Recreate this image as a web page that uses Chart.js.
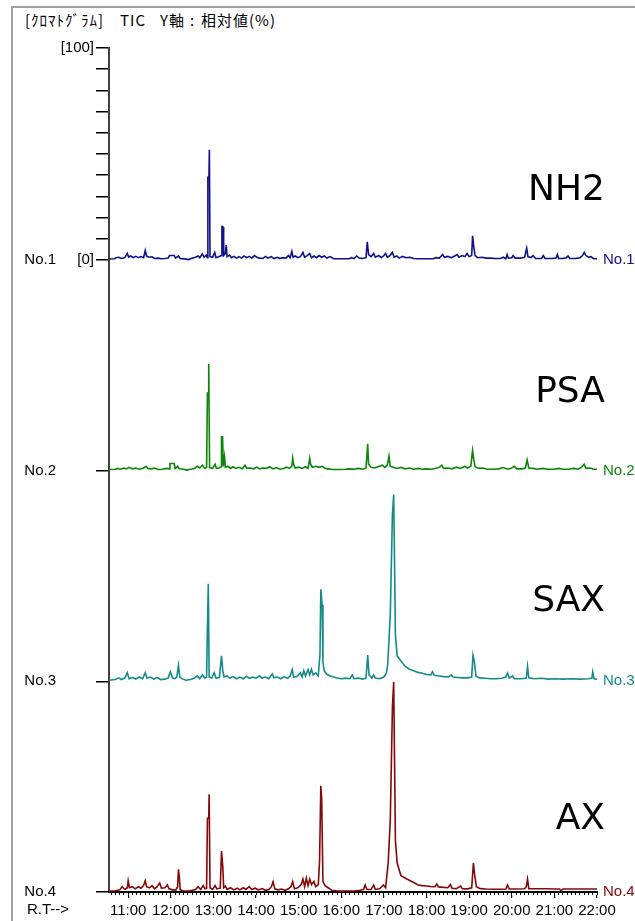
<!DOCTYPE html>
<html>
<head>
<meta charset="utf-8">
<script src="https://cdn.jsdelivr.net/npm/chart.js@4"></script>
<style>
  html, body { margin: 0; padding: 0; background: #fff; }
  #wrap { position: relative; width: 635px; height: 921px; overflow: hidden; }
  #frame { position: absolute; left: 11px; top: 6px; width: 700px; height: 1000px;
           border-left: 2px solid #a0a0a0; border-top: 2px solid #a0a0a0; }
  #title span { position: absolute; top: 9px; font: 15px "Noto Sans CJK JP", sans-serif;
                color: #000; white-space: pre; letter-spacing: 1px; }
  canvas { position: absolute; left: 0; top: 0; }
</style>
</head>
<body>
<div id="wrap">
  <div id="frame"></div>
  <div id="title"><span style="left:25px">[ｸﾛﾏﾄｸﾞﾗﾑ]</span><span style="left:120px">TIC</span><span style="left:160px">Y軸</span><span style="left:190px">:</span><span style="left:201px">相対値(%)</span></div>
  <canvas id="chrom" width="635" height="921"></canvas>
</div>
<script>
// retention time ticks (min) and their labels
const minutes = [11, 12, 13, 14, 15, 16, 17, 18, 19, 20, 21, 22];
const tickLabels = ['11:00', '12:00', '13:00', '14:00', '15:00', '16:00',
                    '17:00', '18:00', '19:00', '20:00', '21:00', '22:00'];
const traceNames = ['NH2', 'PSA', 'SAX', 'AX'];
const traceTags = ['No.1', 'No.2', 'No.3', 'No.4'];
const traceColors = ['#10108a', '#0a860a', '#158a8a', '#860808'];

// TIC, relative intensity (%) : [R.T (min), value]
const nh2 = [
  [10.55,0.4],[10.68,0.5],[10.72,1.0],[10.78,1.2],[10.84,0.6],[10.92,1.0],[10.98,3.0],[11.01,1.3],
  [11.06,1.8],[11.12,1.0],[11.18,1.6],[11.24,1.0],[11.30,1.5],[11.36,1.0],[11.40,4.4],[11.43,1.8],
  [11.48,1.2],[11.56,1.4],[11.62,0.6],[11.70,0.8],[11.78,0.5],[11.86,0.6],[11.94,0.8],[11.97,2.0],
  [12.08,2.0],[12.11,0.8],[12.18,1.8],[12.22,0.6],[12.36,0.3],[12.42,0.1],[12.48,0.6],[12.58,1.2],
  [12.64,1.8],[12.68,1.0],[12.74,2.8],[12.78,1.2],[12.83,2.2],[12.86,1.0],[12.87,39],[12.895,39],
  [12.905,52],[12.92,1.5],[12.98,1.2],[13.03,3.5],[13.06,1.0],[13.12,1.4],[13.19,2.0],[13.20,15.7],
  [13.225,15.5],[13.24,2.0],[13.28,3.0],[13.30,7.0],[13.32,1.5],[13.38,2.2],[13.42,1.0],[13.48,1.6],
  [13.54,0.8],[13.60,1.5],[13.66,0.8],[13.72,1.8],[13.78,1.0],[13.84,1.6],[13.90,0.8],[13.96,2.0],
  [14.02,1.2],[14.08,0.8],[14.16,0.6],[14.22,1.6],[14.28,0.8],[14.36,1.5],[14.42,0.6],[14.50,1.2],
  [14.56,0.6],[14.62,1.0],[14.70,0.8],[14.76,2.0],[14.80,1.0],[14.84,4.0],[14.87,1.2],[14.92,1.8],
  [14.98,1.0],[15.04,1.5],[15.10,3.5],[15.14,1.2],[15.20,2.0],[15.26,3.0],[15.30,1.0],[15.36,1.8],
  [15.42,1.0],[15.48,2.0],[15.54,1.2],[15.60,1.8],[15.66,0.8],[15.74,1.5],[15.82,0.5],[16.00,0.5],
  [16.18,0.5],[16.24,1.0],[16.30,0.6],[16.36,1.8],[16.42,0.8],[16.50,0.6],[16.58,1.0],[16.61,8.5],
  [16.64,2.5],[16.70,1.5],[16.76,3.0],[16.80,1.2],[16.88,2.0],[16.94,1.0],[17.00,2.0],[17.04,3.0],
  [17.08,1.2],[17.14,2.0],[17.20,3.5],[17.24,1.2],[17.30,1.8],[17.36,0.8],[17.44,1.6],[17.52,1.0],
  [17.60,1.2],[17.70,0.6],[17.80,0.5],[18.00,0.5],[18.16,0.5],[18.22,1.0],[18.30,0.8],[18.38,2.5],
  [18.42,1.2],[18.50,1.6],[18.58,1.0],[18.66,1.8],[18.72,2.5],[18.76,1.2],[18.84,2.0],[18.90,1.5],
  [18.95,3.0],[19.00,1.5],[19.06,2.0],[19.08,11.3],[19.11,6.0],[19.14,2.0],[19.20,1.0],[19.30,1.2],
  [19.40,0.8],[19.50,0.8],[19.60,0.6],[19.74,0.6],[19.80,1.2],[19.86,0.5],[19.89,2.5],[19.92,0.8],
  [20.00,1.0],[20.03,2.0],[20.08,0.8],[20.20,0.8],[20.30,1.2],[20.35,5.5],[20.38,1.5],[20.45,1.0],
  [20.50,2.0],[20.56,0.6],[20.70,0.6],[20.74,2.0],[20.78,0.6],[20.94,0.6],[21.04,0.8],[21.07,2.5],
  [21.10,0.6],[21.20,0.6],[21.28,1.0],[21.32,1.8],[21.36,0.6],[21.50,0.6],[21.60,1.0],[21.66,2.0],
  [21.70,3.5],[21.74,2.0],[21.80,1.2],[21.86,1.5],[21.92,0.5],[22.00,0.5]
];
const psa = [
  [10.55,0.5],[10.70,0.6],[10.76,1.0],[10.82,0.6],[10.90,1.2],[10.96,0.8],[11.02,1.5],[11.10,0.8],
  [11.18,1.2],[11.26,0.6],[11.34,1.0],[11.42,2.0],[11.46,1.0],[11.54,0.8],[11.62,1.2],[11.70,0.5],
  [11.80,0.6],[11.90,1.0],[11.96,0.8],[11.98,3.3],[12.08,3.3],[12.10,1.0],[12.16,2.0],[12.20,0.8],
  [12.30,0.6],[12.38,0.2],[12.46,0.6],[12.56,1.0],[12.62,2.0],[12.68,1.2],[12.74,2.5],[12.80,1.0],
  [12.84,1.5],[12.86,36.6],[12.88,36.6],[12.89,50.3],[12.91,1.5],[12.98,1.0],[13.04,3.0],[13.07,1.0],
  [13.14,1.2],[13.18,1.8],[13.19,15.9],[13.215,15.9],[13.23,2.0],[13.26,6.6],[13.28,1.5],[13.34,2.0],
  [13.40,1.0],[13.46,1.8],[13.52,1.0],[13.60,1.5],[13.68,0.8],[13.74,2.5],[13.78,1.0],[13.86,1.2],
  [13.94,0.8],[14.02,1.6],[14.08,0.8],[14.16,1.2],[14.24,1.0],[14.32,1.8],[14.40,0.8],[14.48,1.4],
  [14.56,0.6],[14.64,1.0],[14.72,1.6],[14.78,1.0],[14.84,2.0],[14.86,5.8],[14.88,3.0],[14.92,1.2],
  [15.00,1.6],[15.08,1.0],[15.16,1.8],[15.22,1.0],[15.26,5.8],[15.28,3.0],[15.32,1.5],[15.40,2.0],
  [15.48,1.5],[15.56,2.0],[15.62,1.0],[15.70,0.8],[15.80,0.5],[16.00,0.5],[16.10,0.6],[16.20,0.8],
  [16.30,0.6],[16.40,1.0],[16.50,0.6],[16.58,1.2],[16.60,6.6],[16.62,12.6],[16.64,3.0],[16.70,1.5],
  [16.78,1.2],[16.86,1.8],[16.96,2.5],[17.02,1.5],[17.08,2.5],[17.12,6.8],[17.15,2.0],[17.22,1.5],
  [17.30,1.0],[17.40,1.5],[17.50,0.8],[17.60,1.2],[17.70,0.6],[17.80,1.0],[17.90,0.6],[18.00,0.8],
  [18.10,0.6],[18.20,1.0],[18.30,1.5],[18.36,2.5],[18.40,1.0],[18.50,1.2],[18.60,0.8],[18.70,1.6],
  [18.80,1.0],[18.90,2.0],[18.96,1.2],[19.04,2.0],[19.08,9.4],[19.11,5.0],[19.14,1.8],[19.22,1.0],
  [19.32,1.2],[19.42,0.6],[19.56,0.6],[19.70,0.8],[19.80,1.4],[19.90,0.6],[20.00,1.2],[20.06,2.0],
  [20.12,0.8],[20.24,0.8],[20.32,1.2],[20.36,5.0],[20.40,1.2],[20.50,1.0],[20.60,0.6],[20.74,1.0],
  [20.84,0.6],[21.00,0.6],[21.10,1.0],[21.20,0.6],[21.34,0.6],[21.46,1.0],[21.56,0.6],[21.64,1.6],
  [21.70,3.0],[21.74,1.0],[21.84,1.2],[21.92,0.6],[22.00,0.6]
];
const sax = [
  [10.55,0.5],[10.70,0.8],[10.78,1.6],[10.84,0.8],[10.92,1.5],[10.98,4.0],[11.02,1.2],[11.10,1.8],
  [11.18,1.0],[11.26,2.0],[11.34,1.2],[11.40,4.0],[11.44,1.5],[11.52,2.0],[11.60,1.0],[11.68,1.8],
  [11.76,0.8],[11.86,1.0],[11.94,1.6],[11.99,4.5],[12.04,1.5],[12.10,1.2],[12.14,2.0],[12.18,7.5],
  [12.21,2.0],[12.28,1.0],[12.36,0.5],[12.46,0.8],[12.56,1.5],[12.62,2.5],[12.68,1.2],[12.74,3.0],
  [12.80,1.5],[12.84,2.0],[12.86,26],[12.88,46],[12.90,2.0],[12.96,1.5],[13.02,4.0],[13.06,1.5],
  [13.14,1.8],[13.19,12.0],[13.22,5.0],[13.25,2.0],[13.32,2.5],[13.38,1.5],[13.46,2.2],[13.54,1.2],
  [13.62,2.0],[13.70,1.2],[13.78,2.4],[13.84,1.4],[13.92,2.0],[14.00,1.5],[14.08,2.6],[14.14,1.4],
  [14.22,2.0],[14.30,1.2],[14.38,3.5],[14.42,1.6],[14.50,2.0],[14.58,1.2],[14.66,2.2],[14.74,1.4],
  [14.80,2.5],[14.85,5.5],[14.88,2.0],[14.96,2.2],[15.04,4.0],[15.08,2.0],[15.12,5.0],[15.16,2.5],
  [15.22,5.5],[15.26,3.0],[15.30,5.7],[15.34,3.0],[15.40,4.0],[15.46,2.5],[15.50,12.7],[15.52,43.4],
  [15.55,36],[15.57,9.0],[15.60,5.0],[15.66,3.3],[15.74,2.5],[15.82,2.0],[15.90,1.5],[16.00,1.2],
  [16.10,1.5],[16.20,1.2],[16.26,3.0],[16.30,1.2],[16.40,1.5],[16.50,1.0],[16.58,1.5],[16.62,12.4],
  [16.65,3.0],[16.72,1.5],[16.76,3.0],[16.80,1.5],[16.90,1.2],[17.00,2.0],[17.06,4.0],[17.09,8.0],
  [17.15,31.6],[17.20,78.8],[17.23,88.2],[17.27,22.0],[17.31,12.0],[17.40,9.6],[17.50,7.0],[17.60,5.7],
  [17.70,5.0],[17.80,4.2],[17.90,3.8],[18.00,3.2],[18.10,3.0],[18.14,4.5],[18.18,2.8],[18.30,2.5],
  [18.40,2.2],[18.52,2.0],[18.58,3.0],[18.62,2.0],[18.72,1.8],[18.84,1.6],[18.96,1.6],[19.06,2.0],
  [19.09,12.3],[19.12,9.6],[19.16,2.5],[19.24,1.6],[19.36,1.4],[19.50,1.2],[19.64,1.2],[19.76,1.4],
  [19.86,2.0],[19.90,3.8],[19.94,1.5],[20.02,2.5],[20.06,1.2],[20.20,1.2],[20.34,1.4],[20.37,7.0],
  [20.40,1.6],[20.54,1.2],[20.70,1.4],[20.86,1.0],[21.00,1.2],[21.20,1.0],[21.40,1.2],[21.60,1.0],
  [21.80,1.2],[21.88,1.5],[21.90,4.4],[21.93,1.2],[22.00,1.0]
];
const ax = [
  [10.55,0.5],[10.70,0.6],[10.80,1.0],[10.86,2.5],[10.92,1.2],[10.98,2.0],[11.00,5.3],[11.03,2.0],
  [11.10,2.5],[11.16,1.5],[11.24,2.5],[11.30,1.8],[11.36,3.0],[11.40,5.3],[11.43,2.5],[11.50,2.0],
  [11.56,3.0],[11.62,1.5],[11.68,2.5],[11.74,4.2],[11.78,1.8],[11.86,2.0],[11.92,3.3],[11.96,1.5],
  [12.04,1.0],[12.12,1.0],[12.16,2.5],[12.18,10.7],[12.20,7.2],[12.22,1.0],[12.30,0.5],[12.40,0.5],
  [12.50,0.8],[12.58,1.2],[12.64,2.5],[12.70,1.2],[12.76,3.0],[12.80,1.5],[12.84,1.8],[12.86,34.8],
  [12.89,34.8],[12.90,46.2],[12.92,2.0],[12.98,1.2],[13.04,3.0],[13.08,1.5],[13.16,1.8],[13.19,19.3],
  [13.22,12.0],[13.24,2.0],[13.28,2.8],[13.32,1.2],[13.40,2.0],[13.48,1.0],[13.56,1.8],[13.62,1.0],
  [13.70,2.0],[13.76,1.2],[13.84,2.5],[13.90,1.2],[13.98,1.8],[14.06,1.0],[14.14,1.6],[14.22,0.8],
  [14.30,1.2],[14.36,2.5],[14.40,4.9],[14.44,1.5],[14.52,1.0],[14.60,1.4],[14.68,0.8],[14.76,1.5],
  [14.82,2.5],[14.86,4.9],[14.90,1.5],[14.98,2.0],[15.06,3.5],[15.10,6.1],[15.14,2.5],[15.18,6.6],
  [15.22,3.0],[15.26,6.1],[15.30,3.5],[15.36,5.0],[15.40,2.5],[15.46,3.5],[15.49,14.3],[15.52,50.2],
  [15.54,44.2],[15.57,4.9],[15.62,3.0],[15.70,1.9],[15.78,0.8],[15.90,0.5],[16.10,0.5],[16.30,0.5],
  [16.44,0.8],[16.52,1.2],[16.56,3.3],[16.60,1.2],[16.70,1.2],[16.76,3.3],[16.80,1.2],[16.90,1.5],
  [16.99,3.3],[17.04,2.0],[17.10,13.5],[17.15,34.0],[17.20,87.4],[17.23,99.2],[17.27,24.5],[17.31,13.8],
  [17.40,7.7],[17.55,6.0],[17.70,4.5],[17.80,3.3],[17.90,3.0],[18.00,2.8],[18.10,2.6],[18.20,2.5],
  [18.24,3.8],[18.28,2.4],[18.40,2.2],[18.50,2.0],[18.56,3.5],[18.60,1.8],[18.70,1.6],[18.80,2.8],
  [18.84,1.6],[18.96,1.5],[19.06,2.0],[19.10,13.7],[19.13,8.0],[19.17,2.5],[19.26,1.6],[19.40,1.4],
  [19.56,1.3],[19.70,1.3],[19.86,1.4],[19.90,3.3],[19.94,1.4],[20.10,1.4],[20.30,1.5],[20.34,2.5],
  [20.37,6.1],[20.40,1.6],[20.60,1.5],[20.80,1.5],[21.00,1.4],[21.12,1.4],[21.16,0.6],[21.20,1.4],
  [21.40,1.4],[21.60,1.4],[21.80,1.4],[22.00,1.4]
];

const traces = [nh2, psa, sax, ax];
// each trace sits on its own baseline, stacked from the bottom
const baseLevels = [298.5, 199, 99.5, 0];
const topLevel = 398.5;
const nameLift = [32.6, 37, 37.8, 34];

const tickFont = { family: '"Liberation Sans", Arial, sans-serif', size: 15 };

const innerTicks = [0, 99.5, 199];
for (let p = 0; p <= 100; p += 10) innerTicks.push(298.5 + p);
const minorTicks = [];
for (let k = 106; k <= 220; k++) minorTicks.push(k / 10);

const nameLabels = {
  id: 'nameLabels',
  afterDatasetsDraw(chart) {
    const {ctx, scales: {x, y}} = chart;
    ctx.save();
    ctx.fillStyle = '#000';
    ctx.font = '36px "DejaVu Sans", sans-serif';
    ctx.textAlign = 'right';
    ctx.textBaseline = 'middle';
    traceNames.forEach((name, i) => {
      ctx.fillText(name, x.right + 8, y.getPixelForValue(baseLevels[i] + nameLift[i]));
    });
    ctx.font = `${tickFont.size}px ${tickFont.family}`;
    ctx.textAlign = 'left';
    ctx.textBaseline = 'top';
    ctx.fillText('R.T-->', 27, x.top + 7);
    ctx.restore();
  }
};

const ctx = document.getElementById('chrom').getContext('2d');
new Chart(ctx, {
  type: 'line',
  data: {
    datasets: traces.map((trace, i) => ({
      label: traceTags[i],
      data: trace.map(([t, v]) => ({ x: t, y: baseLevels[i] + v })),
      borderColor: traceColors[i],
      borderWidth: 1.6,
      pointRadius: 0,
      tension: 0,
      xAxisID: 'x',
      yAxisID: 'y'
    }))
  },
  options: {
    responsive: false,
    animation: false,
    devicePixelRatio: 1,
    layout: { padding: { top: 48, right: 0, bottom: 0, left: 0 } },
    plugins: { legend: { display: false }, tooltip: { enabled: false } },
    scales: {
      y: {
        type: 'linear', position: 'left', weight: 0, min: 0, max: topLevel,
        afterBuildTicks: s => { s.ticks = innerTicks.map(v => ({ value: v })); },
        afterFit: s => { s.width = 50; },
        ticks: {
          autoSkip: false, padding: 2, color: '#000', font: tickFont,
          callback: v => v === topLevel ? '[100]' : (v === 298.5 ? '[0]' : '')
        },
        grid: { drawOnChartArea: false, tickLength: 13, color: '#000', lineWidth: 1.5 },
        border: { color: '#404040', width: 2 }
      },
      yNo: {
        type: 'linear', position: 'left', weight: 1, min: 0, max: topLevel,
        afterBuildTicks: s => { s.ticks = [0, 99.5, 199, 298.5].map(v => ({ value: v })); },
        afterFit: s => { s.width = 59; },
        ticks: {
          autoSkip: false, padding: 3, color: '#000', font: tickFont,
          callback: v => traceTags[baseLevels.indexOf(v)]
        },
        grid: { display: false, tickLength: 0 },
        border: { display: false }
      },
      yR: {
        type: 'linear', position: 'right', weight: 0, min: 0, max: topLevel,
        afterBuildTicks: s => { s.ticks = [0, 99.5, 199, 298.5].map(v => ({ value: v })); },
        afterFit: s => { s.width = 38; },
        ticks: {
          autoSkip: false, padding: 6, font: tickFont,
          color: c => traceColors[baseLevels.indexOf(c.tick.value)],
          callback: v => traceTags[baseLevels.indexOf(v)]
        },
        grid: { display: false, tickLength: 0 },
        border: { display: false }
      },
      xMinor: {
        type: 'linear', position: 'bottom', weight: 0, min: 10.55, max: 22,
        afterBuildTicks: s => { s.ticks = minorTicks.map(v => ({ value: v })); },
        afterFit: s => { s.height = 3; },
        ticks: { display: false },
        grid: { drawOnChartArea: false, tickLength: 3, color: '#000', lineWidth: 1 },
        border: { color: '#000', width: 2 }
      },
      x: {
        type: 'linear', position: 'bottom', weight: 1, min: 10.55, max: 22,
        afterBuildTicks: s => { s.ticks = minutes.map(v => ({ value: v })); },
        afterFit: s => { s.height = 26; },
        ticks: {
          autoSkip: false, maxRotation: 0, padding: 4, color: '#000', font: tickFont,
          callback: v => tickLabels[minutes.indexOf(v)]
        },
        grid: { drawOnChartArea: false, tickLength: 3, color: '#000', lineWidth: 1.2 },
        border: { display: false }
      }
    }
  },
  plugins: [nameLabels]
});
</script>
</body>
</html>
